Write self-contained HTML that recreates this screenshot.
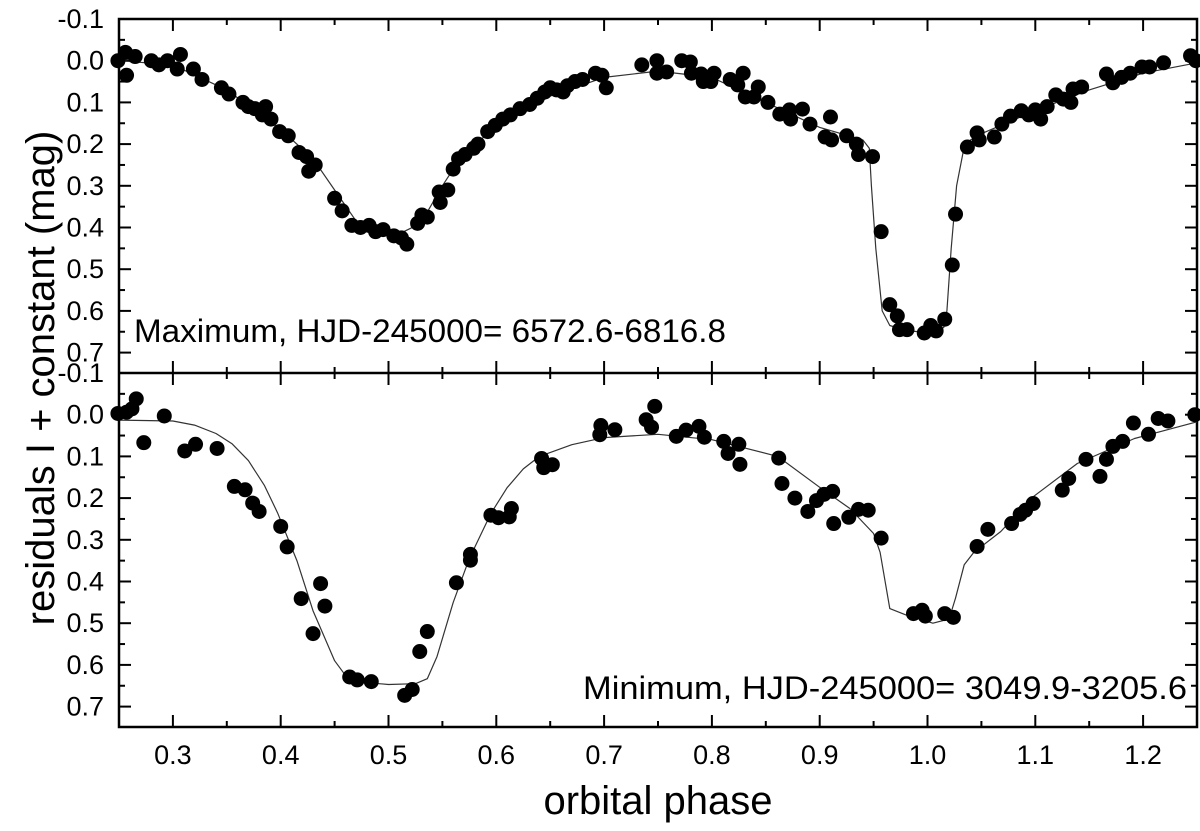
<!DOCTYPE html>
<html><head><meta charset="utf-8"><style>
html,body{margin:0;padding:0;background:#fff;}
svg{display:block;font-family:"Liberation Sans",Arial,sans-serif;}
</style></head><body>
<svg id="chart" width="1200" height="831" viewBox="0 0 1200 831" xmlns="http://www.w3.org/2000/svg"></svg>
<script>
const xTicks = [0.3,0.4,0.5,0.6,0.7,0.8,0.9,1.0,1.1,1.2];
const xTickLabels = ["0.3","0.4","0.5","0.6","0.7","0.8","0.9","1.0","1.1","1.2"];
const yTicks = [-0.1,0,0.1,0.2,0.3,0.4,0.5,0.6,0.7];
const yTickLabels = ["-0.1","0.0","0.1","0.2","0.3","0.4","0.5","0.6","0.7"];

const maxPhase = [0.249,0.256,0.257,0.265,0.28,0.287,0.295,0.304,0.307,0.319,0.327,0.345,0.352,0.365,0.37,0.376,0.386,0.383,0.391,0.399,0.407,0.417,0.424,0.432,0.426,0.45,0.457,0.466,0.474,0.482,0.488,0.495,0.505,0.512,0.517,0.527,0.531,0.536,0.547,0.548,0.555,0.56,0.565,0.571,0.579,0.583,0.592,0.599,0.606,0.613,0.622,0.631,0.638,0.645,0.65,0.656,0.662,0.666,0.673,0.68,0.692,0.698,0.702,0.735,0.749,0.749,0.758,0.772,0.78,0.781,0.79,0.792,0.802,0.799,0.817,0.829,0.824,0.831,0.843,0.839,0.852,0.863,0.872,0.873,0.884,0.891,0.91,0.905,0.911,0.925,0.934,0.936,0.949,0.957,0.965,0.972,0.974,0.981,0.997,1.003,1.008,1.016,1.023,1.026,1.037,1.046,1.048,1.062,1.069,1.077,1.087,1.094,1.1,1.105,1.111,1.119,1.126,1.133,1.135,1.143,1.166,1.172,1.18,1.188,1.199,1.206,1.219,1.244,1.249];
const maxMag = [0.0,-0.02,0.035,-0.01,0.0,0.01,0.0,0.02,-0.015,0.02,0.045,0.065,0.08,0.10,0.11,0.115,0.11,0.13,0.14,0.17,0.18,0.22,0.23,0.25,0.265,0.33,0.36,0.395,0.40,0.395,0.41,0.405,0.42,0.425,0.44,0.39,0.37,0.375,0.315,0.34,0.31,0.26,0.235,0.225,0.21,0.2,0.17,0.155,0.14,0.13,0.115,0.105,0.09,0.075,0.065,0.07,0.075,0.06,0.05,0.045,0.03,0.035,0.065,0.01,0.0,0.03,0.027,0.0,0.003,0.03,0.032,0.05,0.03,0.05,0.045,0.03,0.058,0.087,0.063,0.087,0.1,0.128,0.118,0.14,0.116,0.152,0.135,0.183,0.19,0.18,0.2,0.225,0.23,0.41,0.585,0.612,0.645,0.645,0.653,0.635,0.648,0.62,0.49,0.368,0.207,0.173,0.19,0.183,0.152,0.133,0.12,0.13,0.118,0.14,0.11,0.082,0.092,0.1,0.068,0.063,0.032,0.053,0.04,0.03,0.015,0.015,0.005,-0.012,0.0];

const minPhase = [0.249,0.257,0.262,0.266,0.273,0.292,0.311,0.321,0.341,0.357,0.367,0.374,0.38,0.4,0.406,0.419,0.437,0.441,0.43,0.464,0.471,0.484,0.515,0.522,0.529,0.536,0.563,0.576,0.576,0.595,0.602,0.612,0.614,0.642,0.644,0.652,0.697,0.696,0.71,0.739,0.747,0.744,0.767,0.776,0.788,0.793,0.811,0.815,0.825,0.826,0.862,0.865,0.877,0.889,0.897,0.904,0.912,0.913,0.927,0.936,0.945,0.957,0.987,0.995,0.998,1.016,1.024,1.046,1.056,1.078,1.086,1.091,1.098,1.125,1.131,1.147,1.16,1.166,1.172,1.181,1.191,1.205,1.214,1.223,1.248];
const minMag = [-0.003,-0.006,-0.014,-0.038,0.067,0.003,0.087,0.071,0.081,0.172,0.18,0.212,0.232,0.268,0.317,0.441,0.405,0.459,0.525,0.629,0.636,0.64,0.673,0.659,0.568,0.52,0.403,0.335,0.349,0.241,0.247,0.245,0.225,0.105,0.127,0.12,0.026,0.048,0.036,0.012,-0.02,0.03,0.052,0.037,0.028,0.054,0.064,0.093,0.071,0.119,0.104,0.165,0.2,0.232,0.206,0.191,0.184,0.261,0.246,0.227,0.229,0.296,0.477,0.469,0.483,0.477,0.486,0.316,0.275,0.261,0.239,0.229,0.213,0.181,0.153,0.107,0.148,0.107,0.076,0.064,0.02,0.047,0.009,0.015,0.0];

const maxModelPhase = [0.25,0.3,0.35,0.4,0.43,0.45,0.47,0.49,0.51,0.53,0.55,0.57,0.6,0.65,0.7,0.75,0.8,0.85,0.9,0.94,0.946,0.948,0.952,0.958,0.965,0.98,1.0,1.015,1.018,1.022,1.027,1.033,1.04,1.05,1.1,1.15,1.2,1.25];
const maxModelMag = [0.0,0.01,0.07,0.165,0.235,0.31,0.385,0.405,0.415,0.39,0.3,0.22,0.16,0.085,0.04,0.025,0.04,0.1,0.16,0.19,0.21,0.3,0.45,0.6,0.635,0.647,0.652,0.64,0.6,0.45,0.3,0.22,0.19,0.175,0.12,0.07,0.03,0.005];

const minModelPhase = [0.25,0.3,0.32,0.34,0.355,0.37,0.385,0.397,0.415,0.43,0.45,0.46,0.47,0.5,0.525,0.536,0.545,0.56,0.575,0.595,0.61,0.625,0.64,0.67,0.7,0.75,0.8,0.861,0.9,0.928,0.95,0.956,0.965,0.98,1.005,1.02,1.026,1.034,1.043,1.068,1.098,1.139,1.192,1.25];
const minModelMag = [0.013,0.015,0.025,0.045,0.07,0.11,0.17,0.235,0.35,0.47,0.59,0.625,0.64,0.647,0.645,0.633,0.58,0.45,0.345,0.237,0.175,0.13,0.1,0.072,0.055,0.047,0.06,0.1,0.174,0.225,0.285,0.33,0.465,0.48,0.5,0.49,0.44,0.36,0.33,0.28,0.197,0.117,0.057,0.017];

const NS = "http://www.w3.org/2000/svg";
const svg = document.getElementById('chart');
const X0 = 119, X1 = 1197;
const xScale = p => X0 + (p - 0.25) / 1.0 * (X1 - X0);
const PX = 417;
const panels = [
  {top:19, bottom:373, name:'maximum'},
  {top:373, bottom:727, name:'minimum'}
];
const yScale = (panel, m) => panel.top + (m + 0.1) * PX;

function mk(tag, attrs, parent) {
  const e = document.createElementNS(NS, tag);
  for (const k in attrs) e.setAttribute(k, attrs[k]);
  (parent || svg).appendChild(e);
  return e;
}

const frame = mk('rect', {x:X0, y:19, width:X1-X0, height:708, fill:'none', stroke:'#000', 'stroke-width':2.5});


const divider = mk('line', {x1:X0, x2:X1, y1:373, y2:373, stroke:'#000', 'stroke-width':2.5});



const xAxisG = mk('g', {});


for (let i = 0; i <= 20; i++) {
  const p = 0.25 + i * 0.05;
  const x = xScale(p);
  const major = (i % 2 === 1);
  const len = major ? 12 : 6;
  [19, 373, 727].forEach((yy, k) => {
    if (k !== 2) mk('line', {x1:x, x2:x, y1:yy, y2:yy+len, stroke:'#000', 'stroke-width':2}, xAxisG);
    if (k !== 0) mk('line', {x1:x, x2:x, y1:yy, y2:yy-len, stroke:'#000', 'stroke-width':2}, xAxisG);
  });
}
xTicks.forEach((t, i) => {
  const tx = mk('text', {x:xScale(t), y:764, 'font-size':27, 'text-anchor':'middle'}, xAxisG);
  tx.textContent = xTickLabels[i];
  
  
});

panels.forEach(panel => {
  const g = mk('g', {});
  
  
  for (let i = 0; i <= 16; i++) {
    const m = -0.1 + i * 0.05;
    const y = yScale(panel, m);
    const len = (i % 2 === 0) ? 12 : 6;
    mk('line', {x1:X0, x2:X0+len, y1:y, y2:y, stroke:'#000', 'stroke-width':2}, g);
    mk('line', {x1:X1, x2:X1-len, y1:y, y2:y, stroke:'#000', 'stroke-width':2}, g);
  }
  yTicks.forEach((t, i) => {
    const tx = mk('text', {x:104, y:yScale(panel, t)+9, 'font-size':27, 'text-anchor':'end'}, g);
    tx.textContent = yTickLabels[i];
    
    
  });
});

function drawPanel(panel, mp, mm, pp, pm) {
  const g = mk('g', {});
  
  
  const d = mp.map((p, i) => (i ? 'L' : 'M') + xScale(p).toFixed(1) + ',' + yScale(panel, mm[i]).toFixed(1)).join(' ');
  const path = mk('path', {d:d, fill:'none', stroke:'#333', 'stroke-width':1.2, 'stroke-linejoin':'round'}, g);
  
  
  pp.forEach((p, i) => {
    const c = mk('circle', {cx:xScale(p), cy:yScale(panel, pm[i]), r:7.5, fill:'#000'}, g);
    
    
  });
}
drawPanel(panels[0], maxModelPhase, maxModelMag, maxPhase, maxMag);
drawPanel(panels[1], minModelPhase, minModelMag, minPhase, minMag);

const a1 = mk('text', {x:134, y:342, 'font-size':32, textLength:592, lengthAdjust:'spacingAndGlyphs'});
a1.textContent = 'Maximum, HJD-245000= 6572.6-6816.8';


const a2 = mk('text', {x:583, y:699, 'font-size':32, textLength:604, lengthAdjust:'spacingAndGlyphs'});
a2.textContent = 'Minimum, HJD-245000= 3049.9-3205.6';



const xt = mk('text', {x:658, y:814, 'font-size':40, 'text-anchor':'middle'});
xt.textContent = 'orbital phase';


const yt = mk('text', {x:0, y:0, 'font-size':40, 'text-anchor':'middle', transform:'translate(54,378) rotate(-90)'});
yt.textContent = 'residuals I + constant (mag)';


</script>
</body></html>
